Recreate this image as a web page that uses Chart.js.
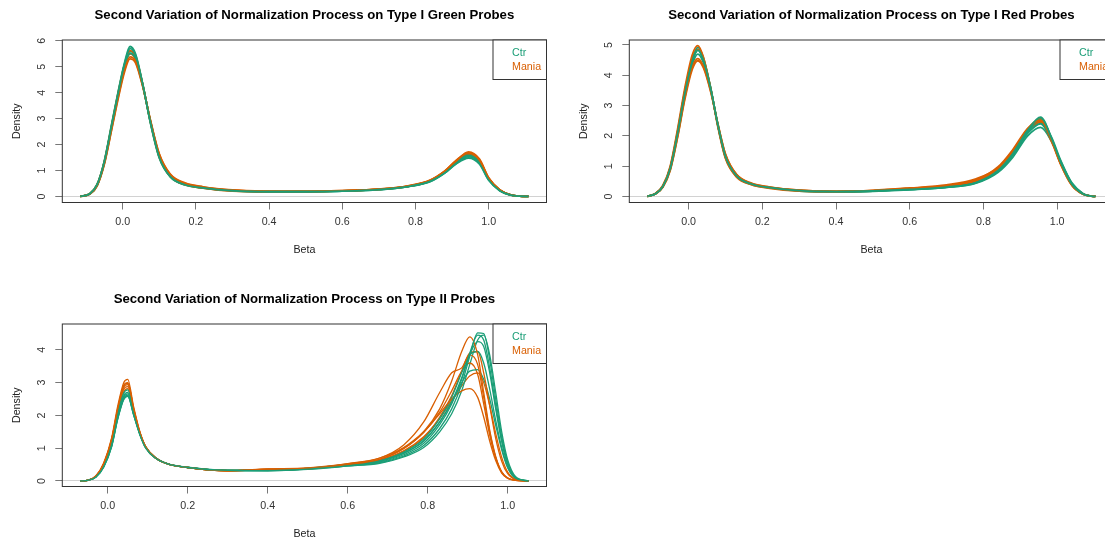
<!DOCTYPE html>
<html>
<head>
<meta charset="utf-8">
<script src="https://cdn.jsdelivr.net/npm/chart.js@4.4.1/dist/chart.umd.min.js"></script>
<style>
  html, body { margin: 0; padding: 0; background: #fff; overflow: hidden; width: 1105px; height: 541px; }
  canvas { position: absolute; }
</style>
</head>
<body>
<canvas id="green" width="567" height="285" style="left:0;top:0"></canvas>
<canvas id="red" width="567" height="285" style="left:567px;top:0"></canvas>
<canvas id="typeII" width="567" height="285" style="left:0;top:284px"></canvas>
<script>
const CTR = '#1B9E77';
const MANIA = '#D95F02';
const FONT = '"Liberation Sans", Arial, sans-serif';
const groups = ['Ctr', 'Mania'];
const xTicks = [0, 0.2, 0.4, 0.6, 0.8, 1.0];

// Type I Green
const greenBeta = [-0.116, -0.09, -0.07, -0.05, -0.03, -0.01, 0.005, 0.02, 0.035, 0.055, 0.075, 0.1, 0.13, 0.17, 0.22, 0.3, 0.4, 0.5, 0.6, 0.7, 0.78, 0.84, 0.88, 0.91, 0.945, 0.975, 1.0, 1.03, 1.06, 1.085, 1.109];
const greenCtr = [
  [0,0.10,0.45,1.35,2.75,4.15,5.10,5.70,5.45,4.30,2.90,1.50,0.76,0.45,0.33,0.22,0.18,0.18,0.20,0.26,0.38,0.58,0.90,1.24,1.48,1.24,0.62,0.22,0.05,0.01,0],
  [0,0.09,0.42,1.30,2.68,4.05,4.95,5.52,5.32,4.28,2.95,1.56,0.79,0.47,0.34,0.22,0.18,0.18,0.20,0.26,0.38,0.57,0.90,1.26,1.53,1.28,0.64,0.23,0.05,0.01,0],
  [0,0.10,0.46,1.38,2.80,4.20,5.15,5.78,5.50,4.32,2.88,1.48,0.75,0.44,0.32,0.21,0.17,0.18,0.20,0.26,0.38,0.59,0.93,1.30,1.58,1.32,0.66,0.24,0.06,0.01,0],
  [0,0.09,0.43,1.32,2.70,4.08,5.00,5.60,5.38,4.30,2.93,1.54,0.78,0.46,0.33,0.22,0.18,0.18,0.21,0.27,0.39,0.60,0.95,1.33,1.62,1.36,0.69,0.25,0.06,0.01,0]
];
const greenMania = [
  [0,0.09,0.42,1.28,2.62,3.98,4.88,5.38,5.22,4.25,2.98,1.62,0.84,0.50,0.36,0.24,0.19,0.19,0.21,0.27,0.40,0.62,0.98,1.38,1.68,1.40,0.70,0.25,0.06,0.01,0],
  [0,0.10,0.44,1.33,2.72,4.10,5.02,5.62,5.40,4.30,2.92,1.52,0.77,0.45,0.32,0.20,0.17,0.18,0.21,0.27,0.39,0.60,0.95,1.34,1.72,1.44,0.72,0.26,0.06,0.01,0],
  [0,0.08,0.40,1.25,2.58,3.92,4.80,5.30,5.15,4.22,2.99,1.64,0.86,0.52,0.37,0.25,0.20,0.19,0.22,0.28,0.41,0.63,0.97,1.33,1.60,1.34,0.68,0.25,0.06,0.01,0],
  [0,0.10,0.45,1.36,2.76,4.16,5.08,5.50,5.30,4.27,2.94,1.56,0.80,0.47,0.34,0.23,0.19,0.19,0.22,0.28,0.40,0.61,0.96,1.36,1.65,1.38,0.70,0.25,0.06,0.01,0]
];
const greenYTicks = [0, 1, 2, 3, 4, 5, 6];

// Type I Red
const redBeta = [-0.112, -0.09, -0.07, -0.05, -0.03, -0.01, 0.01, 0.025, 0.04, 0.06, 0.08, 0.1, 0.13, 0.17, 0.22, 0.3, 0.4, 0.5, 0.6, 0.7, 0.78, 0.84, 0.88, 0.92, 0.955, 0.985, 1.01, 1.04, 1.07, 1.088, 1.104];
const redCtr = [
  [0,0.09,0.33,0.92,2.08,3.42,4.45,4.82,4.50,3.55,2.32,1.32,0.68,0.41,0.29,0.19,0.16,0.18,0.23,0.31,0.46,0.86,1.42,2.18,2.62,1.92,1.12,0.40,0.08,0.02,0],
  [0,0.10,0.35,0.96,2.15,3.50,4.55,4.92,4.58,3.58,2.30,1.28,0.66,0.40,0.28,0.18,0.15,0.17,0.22,0.30,0.45,0.84,1.38,2.12,2.55,1.95,1.18,0.43,0.09,0.02,0],
  [0,0.09,0.32,0.90,2.02,3.34,4.36,4.70,4.42,3.52,2.34,1.35,0.70,0.42,0.30,0.20,0.16,0.18,0.23,0.31,0.46,0.85,1.38,2.08,2.40,1.85,1.12,0.42,0.09,0.02,0],
  [0,0.09,0.33,0.93,2.10,3.45,4.48,4.85,4.52,3.56,2.31,1.30,0.67,0.41,0.29,0.19,0.16,0.18,0.23,0.30,0.44,0.80,1.30,2.00,2.28,1.82,1.15,0.45,0.10,0.02,0]
];
const redMania = [
  [0,0.10,0.36,1.00,2.22,3.60,4.68,4.98,4.60,3.55,2.26,1.25,0.64,0.39,0.27,0.18,0.16,0.19,0.27,0.36,0.55,0.98,1.55,2.25,2.52,1.85,1.05,0.36,0.07,0.02,0],
  [0,0.09,0.31,0.88,1.98,3.28,4.28,4.55,4.30,3.48,2.36,1.38,0.72,0.43,0.31,0.21,0.17,0.19,0.26,0.35,0.52,0.92,1.48,2.22,2.58,1.90,1.08,0.38,0.08,0.02,0],
  [0,0.09,0.33,0.94,2.12,3.48,4.50,4.86,4.54,3.56,2.30,1.30,0.67,0.41,0.29,0.19,0.16,0.18,0.25,0.33,0.50,0.90,1.45,2.15,2.45,1.80,1.06,0.38,0.08,0.02,0],
  [0,0.08,0.30,0.86,1.95,3.22,4.20,4.48,4.25,3.45,2.36,1.40,0.73,0.44,0.31,0.21,0.17,0.20,0.28,0.38,0.58,0.95,1.50,2.20,2.48,1.85,1.08,0.39,0.08,0.02,0]
];
const redYTicks = [0, 1, 2, 3, 4, 5];

// Type II
const typeIIBeta = [-0.069, -0.05, -0.03, -0.01, 0.01, 0.025, 0.04, 0.05, 0.065, 0.08, 0.095, 0.12, 0.15, 0.2, 0.3, 0.4, 0.5, 0.6, 0.68, 0.74, 0.79, 0.83, 0.86, 0.885, 0.905, 0.925, 0.94, 0.955, 0.97, 0.985, 1.0, 1.02, 1.052];
const typeIICtr = [
  [0,0.02,0.11,0.42,1.05,1.88,2.48,2.58,2.00,1.42,1.00,0.69,0.52,0.41,0.32,0.31,0.36,0.46,0.56,0.76,1.08,1.60,2.20,2.95,3.80,4.52,4.50,3.70,2.50,1.36,0.56,0.10,0],
  [0,0.02,0.12,0.46,1.12,1.98,2.60,2.70,2.08,1.46,1.03,0.70,0.52,0.41,0.32,0.32,0.37,0.48,0.58,0.80,1.15,1.72,2.35,3.10,3.90,4.45,4.30,3.45,2.30,1.25,0.52,0.10,0],
  [0,0.02,0.13,0.48,1.18,2.05,2.68,2.78,2.12,1.48,1.04,0.71,0.53,0.42,0.33,0.33,0.38,0.50,0.61,0.85,1.22,1.80,2.42,3.15,3.85,4.25,4.10,3.30,2.20,1.20,0.50,0.09,0],
  [0,0.02,0.12,0.44,1.08,1.92,2.52,2.62,2.02,1.44,1.01,0.69,0.52,0.41,0.32,0.32,0.38,0.50,0.62,0.88,1.28,1.90,2.55,3.30,3.85,3.95,3.60,2.80,1.85,1.02,0.42,0.08,0],
  [0,0.02,0.11,0.43,1.06,1.90,2.50,2.60,2.02,1.44,1.02,0.70,0.52,0.41,0.32,0.32,0.37,0.49,0.60,0.84,1.22,1.80,2.40,3.00,3.35,3.40,3.10,2.50,1.70,0.95,0.40,0.08,0],
  [0,0.02,0.12,0.45,1.10,1.95,2.56,2.66,2.05,1.45,1.02,0.70,0.52,0.41,0.31,0.31,0.35,0.45,0.54,0.73,1.02,1.50,2.05,2.75,3.55,4.30,4.45,3.85,2.70,1.50,0.64,0.13,0]
];
const typeIIMania = [
  [0,0.02,0.14,0.52,1.28,2.20,2.90,2.98,2.20,1.50,1.04,0.70,0.52,0.41,0.31,0.36,0.38,0.50,0.66,0.98,1.50,2.20,3.05,3.95,4.40,3.85,2.70,1.55,0.75,0.28,0.09,0.02,0],
  [0,0.02,0.15,0.55,1.32,2.28,3.00,3.10,2.25,1.52,1.05,0.71,0.52,0.41,0.31,0.36,0.39,0.52,0.70,1.10,1.80,2.70,3.30,3.45,3.85,3.55,2.55,1.50,0.72,0.26,0.08,0.02,0],
  [0,0.02,0.13,0.50,1.22,2.10,2.80,2.88,2.12,1.46,1.02,0.69,0.52,0.41,0.32,0.37,0.40,0.53,0.70,1.02,1.50,2.05,2.50,2.75,2.82,2.55,1.95,1.22,0.62,0.24,0.08,0.02,0],
  [0,0.02,0.14,0.52,1.26,2.16,2.86,2.94,2.16,1.48,1.03,0.70,0.52,0.41,0.31,0.34,0.37,0.49,0.62,0.90,1.32,1.95,2.60,3.35,3.90,3.95,3.30,2.30,1.30,0.60,0.22,0.04,0],
  [0,0.02,0.14,0.53,1.28,2.20,2.92,3.00,2.20,1.50,1.04,0.70,0.52,0.41,0.31,0.35,0.38,0.51,0.66,1.00,1.48,2.10,2.75,3.35,3.60,3.25,2.35,1.40,0.70,0.27,0.09,0.02,0],
  [0,0.02,0.13,0.48,1.18,2.05,2.72,2.82,2.10,1.46,1.02,0.70,0.52,0.41,0.32,0.34,0.38,0.50,0.64,0.92,1.35,1.90,2.45,2.90,3.20,3.30,3.00,2.30,1.45,0.72,0.27,0.05,0]
];
const typeIIYTicks = [0, 1, 2, 3, 4];

// frame box, title and legend like R base graphics
const rFrame = {
  id: 'rFrame',
  afterDatasetsDraw(chart, args, opts) {
    const { ctx, chartArea: a } = chart;
    ctx.save();
    ctx.strokeStyle = '#333';
    ctx.lineWidth = 1;
    ctx.strokeRect(a.left, a.top, a.right - a.left, a.bottom - a.top);

    const lw = 53.5, lh = 39.5, lx = a.right - lw;
    ctx.fillStyle = '#fff';
    ctx.fillRect(lx, a.top, lw, lh);
    ctx.strokeRect(lx, a.top, lw, lh);
    ctx.font = '10.7px ' + FONT;
    ctx.textAlign = 'left';
    ctx.textBaseline = 'middle';
    ctx.fillStyle = CTR;
    ctx.fillText(groups[0], lx + 19, a.top + 13.3);
    ctx.fillStyle = MANIA;
    ctx.fillText(groups[1], lx + 19, a.top + 26.7);

    ctx.font = 'bold 13.2px ' + FONT;
    ctx.textAlign = 'center';
    ctx.fillStyle = '#000';
    ctx.fillText(opts.title, (a.left + a.right) / 2, 15);
    ctx.restore();
  }
};

function line(betas, vals, color, width) {
  return {
    data: betas.map((b, i) => ({ x: b, y: vals[i] })),
    borderColor: color,
    borderWidth: width,
    pointRadius: 0,
    fill: false,
    cubicInterpolationMode: 'monotone'
  };
}

function makePanel(id, title, betas, ctr, mania, yTicks, xr, yr, width) {
  const datasets = [];
  const n = Math.max(ctr.length, mania.length);
  for (let i = 0; i < n; i++) {
    if (ctr[i]) datasets.push(line(betas, ctr[i], CTR, width));
    if (mania[i]) datasets.push(line(betas, mania[i], MANIA, width));
  }
  const tickFont = { family: FONT, size: 10.7 };
  return new Chart(document.getElementById(id), {
    type: 'line',
    data: { datasets },
    plugins: [rFrame],
    options: {
      responsive: false,
      animation: false,
      devicePixelRatio: 1,
      events: [],
      layout: { padding: { left: 0, top: 40, right: 20.5, bottom: 0 } },
      plugins: {
        legend: { display: false },
        tooltip: { enabled: false },
        rFrame: { title }
      },
      scales: {
        x: {
          type: 'linear',
          min: xr[0], max: xr[1],
          afterBuildTicks: s => { s.ticks = xTicks.map(v => ({ value: v })); },
          afterFit: s => { s.height = 82.5; },
          grid: { drawOnChartArea: false, tickLength: 7, tickColor: '#777' },
          border: { display: false },
          ticks: {
            color: '#333', font: tickFont, padding: 6.5,
            maxRotation: 0, minRotation: 0, autoSkip: false,
            callback: v => Number(v).toFixed(1)
          },
          title: {
            display: true, text: 'Beta', color: '#222', font: tickFont,
            padding: { top: 0, bottom: 29 }
          }
        },
        y: {
          type: 'linear',
          min: yr[0], max: yr[1],
          afterBuildTicks: s => { s.ticks = yTicks.map(v => ({ value: v })); },
          afterFit: s => { s.width = 62.3; },
          grid: {
            drawOnChartArea: true,
            color: c => (c.tick && c.tick.value === 0) ? '#d2d2d2' : 'rgba(0,0,0,0)',
            tickColor: '#777',
            tickLength: 7
          },
          border: { display: false },
          ticks: {
            color: '#333', font: tickFont, padding: 10.6,
            crossAlign: 'center', minRotation: 90, maxRotation: 90, autoSkip: false,
            callback: v => String(v)
          },
          title: {
            display: true, text: 'Density', color: '#222', font: tickFont,
            padding: { top: 10.3, bottom: 0 }
          }
        }
      }
    }
  });
}

makePanel('green', 'Second Variation of Normalization Process on Type I Green Probes',
  greenBeta, greenCtr, greenMania, greenYTicks, [-0.165, 1.158], [-0.235, 6.03], 1.8);
makePanel('red', 'Second Variation of Normalization Process on Type I Red Probes',
  redBeta, redCtr, redMania, redYTicks, [-0.161, 1.153], [-0.2, 5.165], 1.8);
makePanel('typeII', 'Second Variation of Normalization Process on Type II Probes',
  typeIIBeta, typeIICtr, typeIIMania, typeIIYTicks, [-0.1135, 1.097], [-0.17, 4.79], 1.3);
</script>
</body>
</html>
